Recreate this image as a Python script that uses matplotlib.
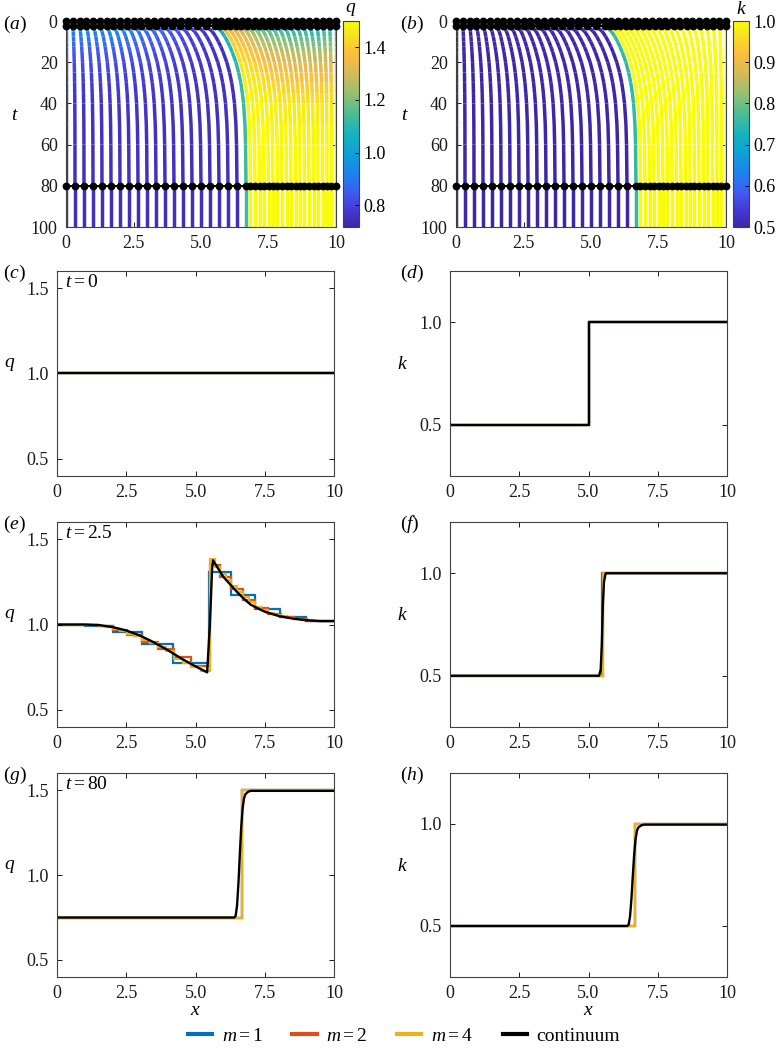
import numpy as np
import matplotlib
matplotlib.use('Agg')
import matplotlib.pyplot as plt
from matplotlib.collections import LineCollection
from matplotlib.colors import LinearSegmentedColormap, Normalize
from matplotlib.lines import Line2D
from matplotlib.ticker import FormatStrFormatter

plt.rcParams['font.family'] = ['Liberation Serif', 'DejaVu Serif']
plt.rcParams['mathtext.fontset'] = 'custom'
plt.rcParams['mathtext.rm'] = 'Liberation Serif'
plt.rcParams['mathtext.it'] = 'Liberation Serif:italic'
plt.rcParams['font.size'] = 13

# ---------------- data ----------------
x_ticks = [0, 2.5, 5, 7.5, 10]
x_ticklabels = ['0', '2.5', '5.0', '7.5', '10']
t_ticks = [0, 20, 40, 60, 80, 100]

m_cells = 4  # nodes per cell used for panels (a), (b)

# node positions (m = 4) at t = 0, 2.5 and 80
node_x0 = [0.0, 0.25, 0.5, 0.75, 1.0, 1.25, 1.5, 1.75, 2.0, 2.25, 2.5, 2.75, 3.0, 3.25,
           3.5, 3.75, 4.0, 4.25, 4.5, 4.75, 5.0, 5.25, 5.5, 5.75, 6.0, 6.25, 6.5, 6.75,
           7.0, 7.25, 7.5, 7.75, 8.0, 8.25, 8.5, 8.75, 9.0, 9.25, 9.5, 9.75, 10.0]
node_x25 = [0.0, 0.25, 0.5, 0.75, 1.0, 1.25, 1.5, 1.752, 2.005, 2.261, 2.521, 2.791, 3.065,
            3.345, 3.63, 3.923, 4.224, 4.534, 4.853, 5.184, 5.527, 5.71, 5.90, 6.09, 6.29,
            6.49, 6.70, 6.92, 7.14, 7.37, 7.60, 7.83, 8.07, 8.31, 8.55, 8.79, 9.03, 9.28,
            9.52, 9.76, 10.0]
node_x80 = [0.0, 0.333, 0.667, 1.0, 1.333, 1.667, 2.0, 2.333, 2.667, 3.0, 3.333, 3.667,
            4.0, 4.333, 4.667, 5.0, 5.333, 5.667, 6.0, 6.333, 6.667, 6.833, 7.0, 7.167,
            7.333, 7.5, 7.667, 7.833, 8.0, 8.167, 8.333, 8.5, 8.667, 8.833, 9.0, 9.167,
            9.333, 9.5, 9.667, 9.833, 10.0]
# fraction of the way from the t = 2.5 to the t = 80 positions
relax_t = [2.5, 5, 7.5, 10, 12.5, 15, 20, 25, 30, 35, 40, 50, 60, 80, 100]
relax_frac = [0.0, 0.2, 0.31, 0.4, 0.48, 0.55, 0.67, 0.76, 0.83, 0.88, 0.92,
              0.965, 0.985, 1.0, 1.0]
cell_k4 = [0.5] * 20 + [1.0] * 20
dot_times = [0, 2.5, 80]

# m = 1 steps
m1_edges_t0 = [0, 1, 2, 3, 4, 5, 6, 7, 8, 9, 10]
m1_edges_t25 = [0, 1.0, 2.01, 3.06, 4.18, 5.48, 6.27, 7.13, 8.04, 9.0, 10]
m1_edges_t80 = [0, 1.333, 2.667, 4.0, 5.333, 6.667, 7.333, 8.0, 8.667, 9.333, 10]
m1_q_t0 = [1.0] * 10
m1_q_t25 = [1.0, 0.99, 0.955, 0.887, 0.772, 1.31, 1.17, 1.09, 1.045, 1.02]
m1_q_t80 = [0.75] * 5 + [1.5] * 5
cell_k1 = [0.5] * 5 + [1.0] * 5

# m = 2 steps
m2_edges_t0 = [0, 0.5, 1.0, 1.5, 2.0, 2.5, 3.0, 3.5, 4.0, 4.5, 5.0, 5.5, 6.0, 6.5, 7.0,
               7.5, 8.0, 8.5, 9.0, 9.5, 10]
m2_edges_t25 = [0, 0.5, 1.0, 1.5, 2.005, 2.521, 3.065, 3.63, 4.224, 4.853, 5.51, 5.90,
                6.29, 6.70, 7.14, 7.60, 8.07, 8.55, 9.03, 9.52, 10]
m2_edges_t80 = [0, 0.667, 1.333, 2.0, 2.667, 3.333, 4.0, 4.667, 5.333, 6.0, 6.667, 7.0,
                7.333, 7.667, 8.0, 8.333, 8.667, 9.0, 9.333, 9.667, 10]
m2_q_t0 = [1.0] * 20
m2_q_t25 = [1.0, 1.0, 1.0, 0.993, 0.97, 0.94, 0.90, 0.855, 0.81, 0.755, 1.35, 1.28,
            1.21, 1.145, 1.095, 1.063, 1.043, 1.03, 1.023, 1.02]
m2_q_t80 = [0.75] * 10 + [1.5] * 10
cell_k2 = [0.5] * 10 + [1.0] * 10

# m = 4 steps (edges are the node positions above)
m4_q_t0 = [1.0] * 40
m4_q_t25 = [1.0, 1.0, 1.0, 1.0, 1.0, 1.0, 0.994, 0.987, 0.975, 0.962, 0.945, 0.93, 0.91,
            0.89, 0.868, 0.845, 0.80, 0.775, 0.75, 0.725, 1.385, 1.335, 1.295, 1.26,
            1.225, 1.19, 1.16, 1.13, 1.105, 1.085, 1.07, 1.057, 1.047, 1.04, 1.033, 1.028,
            1.025, 1.022, 1.02, 1.02]
m4_q_t80 = [0.75] * 20 + [1.5] * 20

# continuum
cont_x_t0 = [0, 10]
cont_q_t0 = [1.0, 1.0]
cont_kx_t0 = [0, 5, 5, 10]
cont_k_t0 = [0.5, 0.5, 1.0, 1.0]
cont_x_t25 = [0, 0.5, 1.0, 1.5, 2.0, 2.5, 3.0, 3.5, 4.0, 4.5, 5.0, 5.2, 5.42, 5.52, 5.6,
              5.63, 5.75, 6.0, 6.25, 6.5, 6.75, 7.0, 7.5, 8.0, 8.5, 9.0, 9.5, 10.0]
cont_q_t25 = [1.0, 1.0, 1.0, 0.997, 0.985, 0.965, 0.935, 0.895, 0.85, 0.80, 0.755, 0.738,
              0.72, 1.0, 1.33, 1.376, 1.345, 1.28, 1.235, 1.19, 1.15, 1.115, 1.075, 1.05,
              1.035, 1.025, 1.02, 1.02]
cont_kx_t25 = [0, 5.38, 5.44, 5.48, 5.52, 5.56, 5.62, 10]
cont_k_t25 = [0.5, 0.5, 0.53, 0.65, 0.85, 0.96, 1.0, 1.0]
cont_x_t80 = [0, 6.40, 6.45, 6.5, 6.55, 6.6, 6.65, 6.7, 6.75, 6.8, 6.9, 7.0, 10]
cont_q_t80 = [0.75, 0.75, 0.76, 0.82, 0.95, 1.12, 1.28, 1.39, 1.45, 1.475, 1.49, 1.495, 1.495]
cont_k_t80 = [0.5, 0.5, 0.507, 0.547, 0.633, 0.747, 0.853, 0.927, 0.967, 0.983, 0.993, 0.997, 0.997]

# ---------------- colours ----------------
parula = LinearSegmentedColormap.from_list('parula', [
    (0.00, (0.242, 0.150, 0.660)), (0.08, (0.270, 0.220, 0.820)),
    (0.16, (0.250, 0.350, 0.950)), (0.25, (0.120, 0.500, 0.930)),
    (0.35, (0.060, 0.620, 0.850)), (0.45, (0.080, 0.700, 0.740)),
    (0.55, (0.300, 0.740, 0.580)), (0.65, (0.600, 0.750, 0.440)),
    (0.75, (0.840, 0.730, 0.340)), (0.84, (0.990, 0.745, 0.240)),
    (0.90, (0.980, 0.830, 0.160)), (0.95, (0.960, 0.920, 0.100)),
    (1.00, (0.977, 0.984, 0.054))])
c_m1 = (0.0, 0.447, 0.741)
c_m2 = (0.85, 0.325, 0.098)
c_m4 = (0.929, 0.694, 0.125)

W, H = 779, 1048
fig = plt.figure(figsize=(W / 100, H / 100), dpi=100)


def rect(l, r, top, bot):
    return [l / W, 1 - bot / H, (r - l) / W, (bot - top) / H]


def style(ax):
    ax.tick_params(direction='in', top=True, right=True, length=3.5, width=0.7,
                   labelsize=13, pad=6, colors='0.1')
    for s in ax.spines.values():
        s.set_linewidth(0.8)
        s.set_color('0.25')
    ax.set_xlim(0, 10)
    ax.set_xticks(x_ticks)
    ax.set_xticklabels(x_ticklabels)


# ---------------- trajectories (a), (b) ----------------
times = np.array([0.0] + relax_t)
x0 = np.array(node_x0)
x25 = np.array(node_x25)
x80 = np.array(node_x80)
X = np.column_stack([x0] + [x25 + (x80 - x25) * f for f in relax_frac])  # nodes x times

cell_q = 1.0 / (m_cells * np.diff(X, axis=0))
node_q = np.vstack([cell_q[:1], 0.5 * (cell_q[:-1] + cell_q[1:]), cell_q[-1:]])
ck = np.array(cell_k4)
node_k = np.concatenate([ck[:1], 0.5 * (ck[:-1] + ck[1:]), ck[-1:]])

segs, seg_q, seg_k = [], [], []
for i in range(X.shape[0]):
    for j in range(len(times) - 1):
        segs.append([(X[i, j], times[j]), (X[i, j + 1], times[j + 1])])
        seg_q.append(0.5 * (node_q[i, j] + node_q[i, j + 1]))
        seg_k.append(node_k[i])

panels_top = [
    (rect(66, 336, 21, 227), rect(343, 359, 21, 227), np.array(seg_q), (0.717, 1.5),
     [0.8, 1.0, 1.2, 1.4], '$q$', '$(a)$', 3),
    (rect(456, 726, 21, 227), rect(733, 749, 21, 227), np.array(seg_k), (0.5, 1.0),
     [0.5, 0.6, 0.7, 0.8, 0.9, 1.0], '$k$', '$(b)$', 400),
]
for pos, cpos, vals, clim, cticks, clab, plab, px in panels_top:
    ax = fig.add_axes(pos)
    style(ax)
    norm = Normalize(*clim)
    lc = LineCollection(segs, cmap=parula, norm=norm, linewidths=2.5, capstyle='butt',
                        joinstyle='round')
    lc.set_array(vals)
    ax.add_collection(lc)
    for tt in dot_times:
        j = list(times).index(tt)
        ax.plot(X[:, j], np.full(X.shape[0], tt), '-', color='k', lw=1.4, marker='o',
                ms=4.6, clip_on=False, zorder=5)
    ax.set_ylim(100, 0)
    ax.set_yticks(t_ticks)
    ax.set_ylabel('$t$', rotation=0, fontsize=14)
    ax.yaxis.set_label_coords(-0.19, 0.5)
    cax = fig.add_axes(cpos)
    cb = fig.colorbar(lc, cax=cax)
    cb.set_ticks(cticks)
    cb.ax.yaxis.set_major_formatter(FormatStrFormatter('%.1f'))
    cb.ax.tick_params(labelsize=13, length=3, width=0.7, direction='in')
    cb.outline.set_linewidth(0.8)
    cb.outline.set_edgecolor('0.25')
    cax.text(0.5, 1.015, clab, transform=cax.transAxes, ha='center', va='bottom', fontsize=14)
    fig.text(px / W, 1 - 24 / H, plab, ha='left', va='center', fontsize=14)

# ---------------- profiles (c)-(h) ----------------
rows = [
    (271, 476, 't=0', (m1_edges_t0, m2_edges_t0, node_x0),
     (m1_q_t0, m2_q_t0, m4_q_t0), (cont_x_t0, cont_q_t0), (cont_kx_t0, cont_k_t0),
     ('$(c)$', '$(d)$')),
    (522, 727, 't=2.5', (m1_edges_t25, m2_edges_t25, node_x25),
     (m1_q_t25, m2_q_t25, m4_q_t25), (cont_x_t25, cont_q_t25), (cont_kx_t25, cont_k_t25),
     ('$(e)$', '$(f)$')),
    (773, 977, 't=80', (m1_edges_t80, m2_edges_t80, node_x80),
     (m1_q_t80, m2_q_t80, m4_q_t80), (cont_x_t80, cont_q_t80), (cont_x_t80, cont_k_t80),
     ('$(g)$', '$(h)$')),
]
cols = [c_m1, c_m2, c_m4]
ks = [cell_k1, cell_k2, cell_k4]
for r, (top, bot, tlab, edges, qs, cq, ckk, labs) in enumerate(rows):
    axq = fig.add_axes(rect(57, 334, top, bot))
    axk = fig.add_axes(rect(450, 727, top, bot))
    for ax in (axq, axk):
        style(ax)
    for e, q, k, c in zip(edges, qs, ks, cols):
        axq.stairs(q, e, baseline=None, color=c, lw=1.6)
        axk.stairs(k, e, baseline=None, color=c, lw=1.6)
    axq.plot(cq[0], cq[1], color='k', lw=1.7)
    axk.plot(ckk[0], ckk[1], color='k', lw=1.7)

    axq.set_ylim(0.4, 1.6)
    axq.set_yticks([0.5, 1.0, 1.5])
    axk.set_ylim(0.25, 1.25)
    axk.set_yticks([0.5, 1.0])
    for ax, lab in ((axq, '$q$'), (axk, '$k$')):
        ax.yaxis.set_major_formatter(FormatStrFormatter('%.1f'))
        ax.set_ylabel(lab, rotation=0, fontsize=14)
        ax.yaxis.set_label_coords(-0.17, 0.5)
        if r == 2:
            ax.set_xlabel('$x$', fontsize=14, labelpad=0)
    axq.text(0.03, 0.945, '$' + tlab + '$', transform=axq.transAxes, ha='left',
             va='center', fontsize=14)
    fig.text(3 / W, 1 - (top + 2) / H, labs[0], ha='left', va='center', fontsize=14)
    fig.text(400 / W, 1 - (top + 2) / H, labs[1], ha='left', va='center', fontsize=14)

handles = [Line2D([], [], color=c_m1, lw=3), Line2D([], [], color=c_m2, lw=3),
           Line2D([], [], color=c_m4, lw=3), Line2D([], [], color='k', lw=3)]
fig.legend(handles, ['$m=1$', '$m=2$', '$m=4$', 'continuum'], loc='center',
           bbox_to_anchor=(404 / W, 1 - 1036 / H), ncol=4, frameon=False, fontsize=14,
           handlelength=1.25, handletextpad=0.5, columnspacing=1.5)

fig.savefig('out.png', dpi=100)
